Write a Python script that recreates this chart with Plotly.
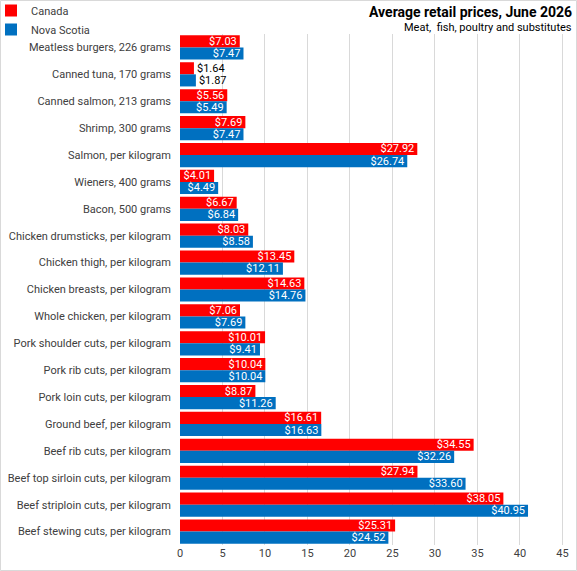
import plotly.graph_objects as go

categories = [
    "Meatless burgers, 226 grams", "Canned tuna, 170 grams", "Canned salmon, 213 grams",
    "Shrimp, 300 grams", "Salmon, per kilogram", "Wieners, 400 grams", "Bacon, 500 grams",
    "Chicken drumsticks, per kilogram", "Chicken thigh, per kilogram",
    "Chicken breasts, per kilogram", "Whole chicken, per kilogram",
    "Pork shoulder cuts, per kilogram", "Pork rib cuts, per kilogram",
    "Pork loin cuts, per kilogram", "Ground beef, per kilogram", "Beef rib cuts, per kilogram",
    "Beef top sirloin cuts, per kilogram", "Beef striploin cuts, per kilogram",
    "Beef stewing cuts, per kilogram",
]
canada = [7.03, 1.64, 5.56, 7.69, 27.92, 4.01, 6.67, 8.03, 13.45, 14.63, 7.06, 10.01,
          10.04, 8.87, 16.61, 34.55, 27.94, 38.05, 25.31]
nova_scotia = [7.47, 1.87, 5.49, 7.47, 26.74, 4.49, 6.84, 8.58, 12.11, 14.76, 7.69, 9.41,
               10.04, 11.26, 16.63, 32.26, 33.60, 40.95, 24.52]
x_ticks = [0, 5, 10, 15, 20, 25, 30, 35, 40, 45]

FONT = "Roboto"
W, H = 577, 571
ML, MR, MT, MB = 180, 12, 34, 26
PW, PH = W - ML - MR, H - MT - MB


def px_x(p):
    return (p - ML) / PW


def px_y(p):
    return (H - MB - p) / PH


def positions(vals):
    return ["outside" if v < 3 else "inside" for v in vals]


def colors(vals):
    return ["#000000" if v < 3 else "#ffffff" for v in vals]


fig = go.Figure()
for name, vals, col in [("Canada", canada, "#ff0000"), ("Nova Scotia", nova_scotia, "#0070c0")]:
    fig.add_trace(go.Bar(
        y=categories, x=vals, name=name, orientation="h",
        marker=dict(color=col, line=dict(width=0)),
        text=[f"${v:.2f}" for v in vals],
        textposition=positions(vals),
        insidetextanchor="end",
        textfont=dict(family=FONT, size=11, color=colors(vals)),
        constraintext="none",
        cliponaxis=False,
    ))

fig.update_layout(
    width=W, height=H,
    margin=dict(l=ML, r=MR, t=MT, b=MB, autoexpand=False),
    paper_bgcolor="white", plot_bgcolor="white",
    barmode="group", bargap=0.1, bargroupgap=0,
    font=dict(family=FONT, size=11, color="#404040"),
    uniformtext=dict(minsize=11, mode="show"),
    legend=dict(xref="paper", yref="paper", x=px_x(-9), y=px_y(-4),
                xanchor="left", yanchor="top", traceorder="normal",
                font=dict(size=11, color="#404040"), itemwidth=30,
                tracegroupgap=0, bgcolor="rgba(0,0,0,0)"),
    xaxis=dict(range=[0, 45.3], tickvals=x_ticks, showgrid=True, gridcolor="#d9d9d9",
               gridwidth=1, zeroline=False, showline=False, ticks="",
               tickfont=dict(size=11, color="#404040"), fixedrange=True, automargin=False),
    yaxis=dict(autorange="reversed", showgrid=False, zeroline=False, showline=False,
               ticks="", ticklabelstandoff=8, tickfont=dict(size=11, color="#404040"),
               automargin=False),
    showlegend=True,
)

fig.add_annotation(text="<b>Average retail prices, June 2026</b>", xref="paper", yref="paper",
                   x=px_x(574), y=px_y(2), xanchor="right", yanchor="top",
                   showarrow=False, font=dict(family=FONT, size=14, color="#000000"))
fig.add_annotation(text="Meat,  fish, poultry and substitutes", xref="paper", yref="paper",
                   x=px_x(574), y=px_y(19), xanchor="right", yanchor="top",
                   showarrow=False, font=dict(family=FONT, size=11, color="#000000"))

fig.add_shape(type="rect", xref="paper", yref="paper",
              x0=px_x(0.5), x1=px_x(W - 0.5), y0=px_y(H - 0.5), y1=px_y(0.5),
              line=dict(color="#d9d9d9", width=1), layer="below")

fig.write_html("out.html", config={"displayModeBar": False},
               post_script="document.body.style.margin='0';document.body.style.padding='0';")
